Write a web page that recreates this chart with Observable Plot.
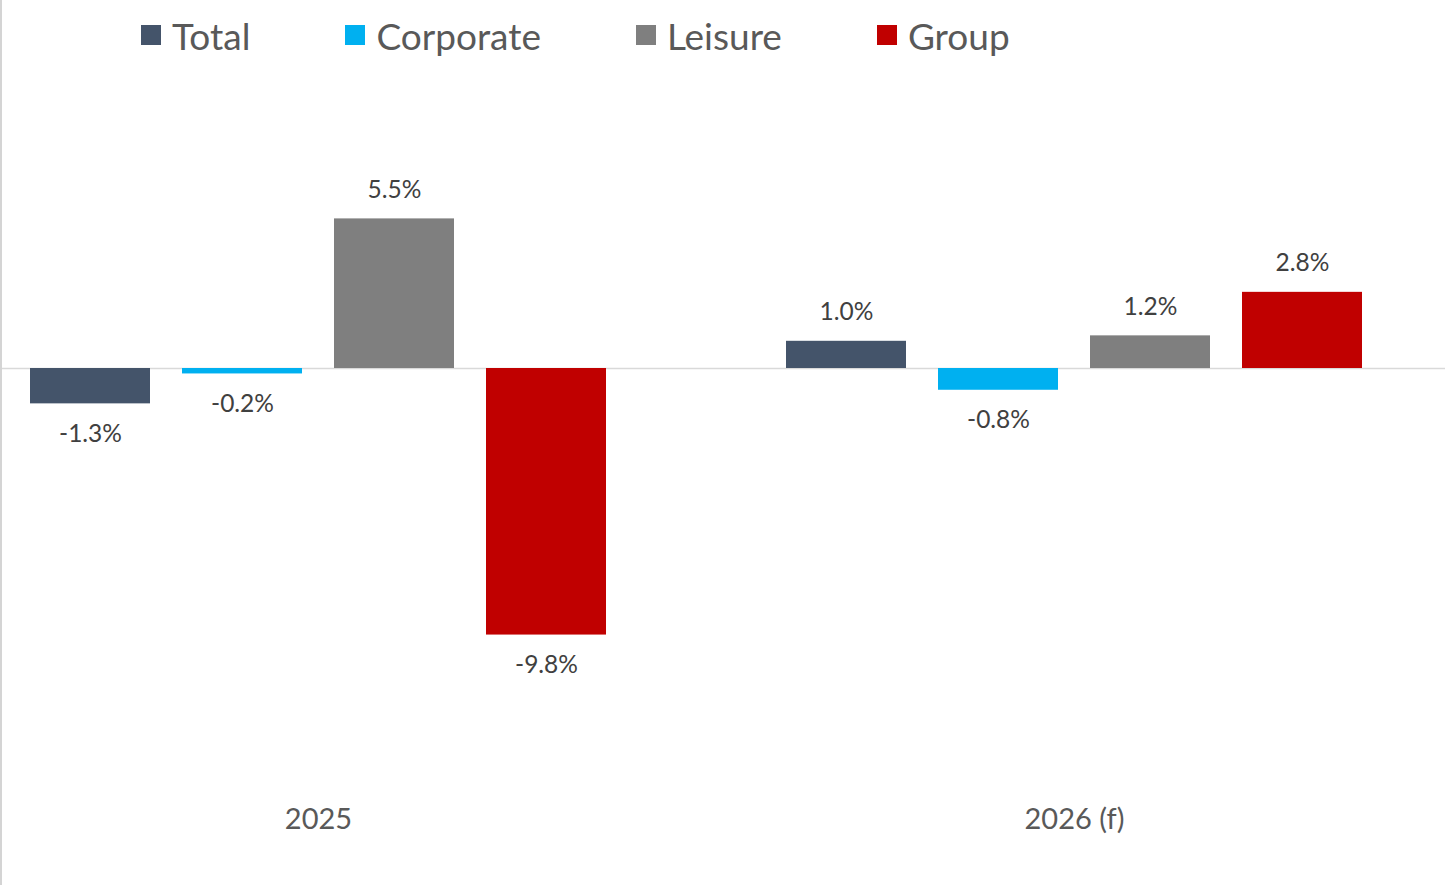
<!DOCTYPE html>
<html>
<head>
<meta charset="utf-8">
<script src="https://cdn.jsdelivr.net/npm/d3@7"></script>
<script src="https://cdn.jsdelivr.net/npm/@observablehq/plot@0.6"></script>
<style>
  html, body { margin: 0; padding: 0; background: #fff; }
  body { width: 1445px; height: 885px; overflow: hidden; position: relative; font-family: Lato, "Open Sans", sans-serif; }
  #edge { position: absolute; left: 0; top: 0; width: 2px; height: 885px; background: #d4d4d4; }
  #legend { height: 70px; display: flex; align-items: center; padding-left: 141px; box-sizing: border-box; }
  .item { display: flex; align-items: center; margin-right: 95px; color: #595959; font-size: 37px; }
  .sw { width: 20px; height: 20px; margin-right: 11px; }
</style>
</head>
<body>
<div id="edge"></div>
<div id="legend"></div>
<div id="chart"></div>
<script>
const years = ["2025", "2026 (f)"];
const series = ["Total", "Corporate", "Leisure", "Group"];
const colors = ["#44546a", "#00b0f0", "#7f7f7f", "#c00000"];
const values2025 = [-1.3, -0.2, 5.5, -9.8];
const values2026 = [1.0, -0.8, 1.2, 2.8];

const data = [];
[values2025, values2026].forEach((vals, i) => {
  vals.forEach((v, j) => data.push({year: years[i], series: series[j], value: v}));
});

// legend
const legend = d3.select("#legend");
series.forEach((s, i) => {
  const it = legend.append("div").attr("class", "item");
  it.append("div").attr("class", "sw").style("background", colors[i]);
  it.append("span").text(s);
});

const fmt = v => v.toFixed(1) + "%";
const zeroY = 298, pxPerUnit = 27.2;

const chart = Plot.plot({
  width: 1445,
  height: 815,
  marginLeft: 0,
  marginRight: 0,
  marginTop: 0,
  marginBottom: 77,
  style: {fontFamily: "Lato, 'Open Sans', sans-serif", color: "#595959", background: "transparent"},
  fx: {domain: years, range: [-60.5, 1451.5], padding: 0, axis: null},
  x: {domain: series, paddingInner: 0.2105, paddingOuter: 0.592, axis: null},
  y: {domain: [-10, 6], range: [zeroY + 10 * pxPerUnit, zeroY - 6 * pxPerUnit], axis: null},
  color: {domain: series, range: colors},
  marks: [
    Plot.ruleY([0], {stroke: "#d9d9d9", strokeWidth: 1.5}),
    Plot.barY(data, {fx: "year", x: "series", y: "value", fill: "series"}),
    Plot.text(data.filter(d => d.value >= 0), {fx: "year", x: "series", y: "value", text: d => fmt(d.value), dy: -29, lineAnchor: "middle", fontSize: 24.5, fill: "#404040"}),
    Plot.text(data.filter(d => d.value < 0), {fx: "year", x: "series", y: "value", text: d => fmt(d.value), dy: 30, lineAnchor: "middle", fontSize: 24.5, fill: "#404040"}),
    Plot.axisFx({anchor: "bottom", tickSize: 0, tickPadding: 0, fontSize: 29, fill: "#595959", label: null})
  ]
});
document.getElementById("chart").appendChild(chart);
</script>
</body>
</html>
